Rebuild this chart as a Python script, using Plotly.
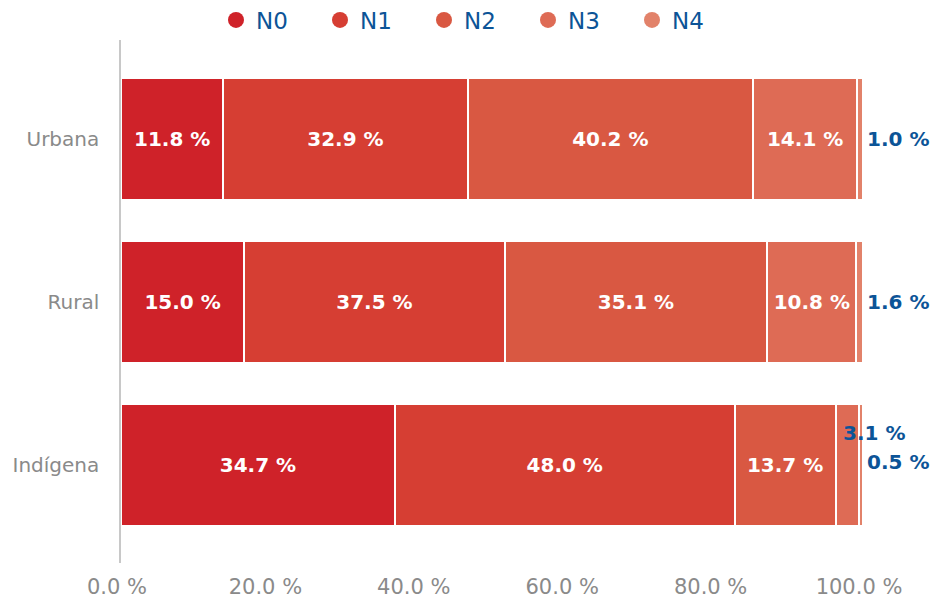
import plotly.graph_objects as go

categories = ["Urbana", "Rural", "Indígena"]
series = ["N0", "N1", "N2", "N3", "N4"]
colors = ["#CF2229", "#D63E33", "#D95842", "#DE6B55", "#E2826A"]

# bar lengths as drawn (percent)
n0 = [13.8, 16.6, 36.9]
n1 = [32.9, 35.1, 45.8]
n2 = [38.5, 35.4, 13.6]
n3 = [14.0, 12.0, 3.1]
n4 = [0.8, 0.9, 0.6]

# printed labels
n0_labels = ["11.8 %", "15.0 %", "34.7 %"]
n1_labels = ["32.9 %", "37.5 %", "48.0 %"]
n2_labels = ["40.2 %", "35.1 %", "13.7 %"]
n3_labels = ["14.1 %", "10.8 %", "3.1 %"]
n4_labels = ["1.0 %", "1.6 %", "0.5 %"]

tick_vals = [0, 20, 40, 60, 80, 100]
tick_text = ["0.0 %", "20.0 %", "40.0 %", "60.0 %", "80.0 %", "100.0 %"]

values = [n0, n1, n2, n3, n4]
labels = [n0_labels, n1_labels, n2_labels, n3_labels, n4_labels]

FONT = "DejaVu Sans"
BLUE = "#0C5497"
GRAY = "#8A8A8A"

fig = go.Figure()

for i, (name, vals, labs, col) in enumerate(zip(series, values, labels, colors)):
    if i == 4:
        txt = ["" for _ in labs]
    elif i == 3:
        txt = [labs[0], labs[1], ""]
    else:
        txt = labs
    fig.add_trace(go.Bar(
        y=categories, x=vals, orientation="h", name=name,
        marker=dict(color=col, line=dict(color="white", width=2)),
        text=txt, textposition="inside", insidetextanchor="middle",
        textfont=dict(family=FONT, size=20, color="white", weight="bold"),
        constraintext="none", width=0.75, showlegend=False,
        hoverinfo="skip",
    ))

for name, col in zip(series, colors):
    fig.add_trace(go.Scatter(
        x=[None], y=[None], mode="markers", name=name,
        marker=dict(color=col, size=16, symbol="circle"),
        showlegend=True,
    ))

# outside labels
for j, cat in enumerate(categories):
    total = n0[j] + n1[j] + n2[j] + n3[j] + n4[j]
    fig.add_annotation(
        x=total, y=cat, xref="x", yref="y", text=n4_labels[j],
        showarrow=False, xanchor="left", xshift=2, yshift=3 if j == 2 else 0,
        font=dict(family=FONT, size=20, color=BLUE, weight="bold"),
    )
j = 2
fig.add_annotation(
    x=n0[j] + n1[j] + n2[j] + n3[j], y=categories[j], xref="x", yref="y",
    text=n3_labels[j], showarrow=False, xanchor="left", xshift=-18, yshift=32,
    font=dict(family=FONT, size=20, color=BLUE, weight="bold"),
)

fig.update_layout(
    width=937, height=600,
    margin=dict(l=121, r=74, t=40, b=37, autoexpand=False),
    barmode="stack",
    plot_bgcolor="white", paper_bgcolor="white",
    font=dict(family=FONT, color=GRAY),
    legend=dict(
        orientation="h", xref="container", yref="container",
        x=0.508, xanchor="center", y=1 - 20 / 600, yanchor="middle",
        font=dict(family=FONT, size=23, color=BLUE),
        entrywidth=59, itemsizing="trace", traceorder="normal",
    ),
    xaxis=dict(
        range=[0, 100], tickvals=tick_vals, ticktext=tick_text,
        showgrid=False, zeroline=False, showline=False, automargin=False,
        ticks="outside", ticklen=5, tickcolor="rgba(0,0,0,0)",
        tickfont=dict(family=FONT, size=21, color=GRAY),
        ticklabelshift=-4, fixedrange=True,
    ),
    yaxis=dict(
        type="category", categoryorder="array", categoryarray=categories,
        range=[2.602, -0.607], automargin=False, fixedrange=True,
        showgrid=False, zeroline=False, showline=True, linecolor="#C8C8C8", linewidth=1.5,
        ticks="outside", ticklen=16, tickcolor="rgba(0,0,0,0)",
        tickfont=dict(family=FONT, size=20, color=GRAY),
    ),
)

fig.write_html("out.html", config={"displayModeBar": False},
               post_script="document.body.style.margin='0';")
